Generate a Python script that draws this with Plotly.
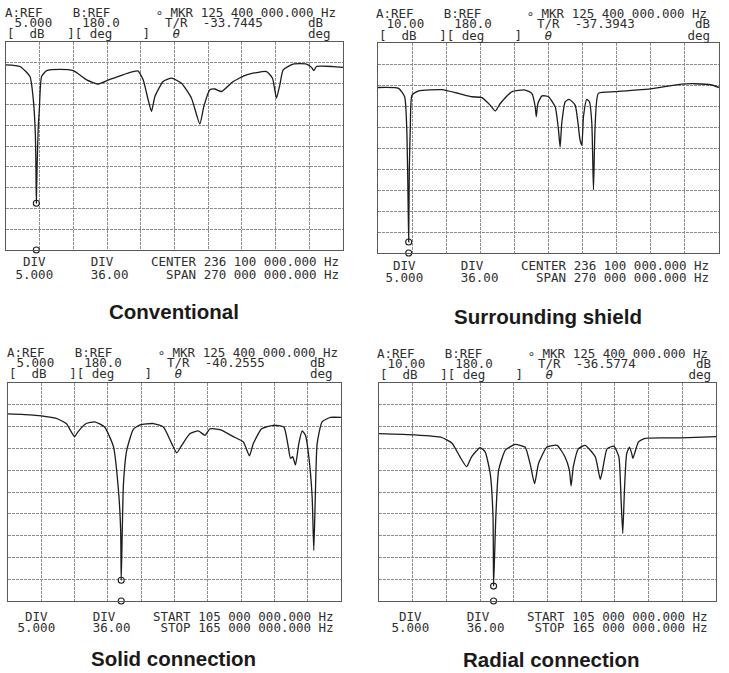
import plotly.graph_objects as go

W, H = 729, 673

# ---------------- data ----------------
titles = ["Conventional", "Surrounding shield", "Solid connection", "Radial connection"]
a_ref = [5.0, 10.0, 5.0, 10.0]          # dB at top of graticule
a_div = [5.0, 5.0, 5.0, 5.0]            # dB / division
b_ref = ["180.0"] * 4
b_div = ["36.00"] * 4
marker_mhz = 125.4
marker_text = "125 400 000.000 Hz"
tr_values = [-33.7445, -37.3943, -40.2555, -36.5774]
freq_line1 = ["CENTER 236 100 000.000 Hz", "CENTER 236 100 000.000 Hz",
              "START 105 000 000.000 Hz", "START 105 000 000.000 Hz"]
freq_line2 = ["SPAN 270 000 000.000 Hz", "SPAN 270 000 000.000 Hz",
              "STOP 165 000 000.000 Hz", "STOP 165 000 000.000 Hz"]
x_start = [101.1, 101.1, 105.0, 105.0]  # MHz
x_stop = [371.1, 371.1, 165.0, 165.0]   # MHz
phase_marker_db = [-45, -40, -45, -40]  # B-trace marker (clipped at bottom)

f_conv = [101.1, 112.3, 120.3, 123.0, 124.6, 125.1, 125.4, 126.0, 127.0, 127.8, 129.6, 133.7,
          144.3, 155.0, 165.7, 175.0, 184.3, 203.0, 207.0, 211.0, 215.0, 217.7, 220.4, 227.0,
          233.7, 241.7, 249.7, 256.4, 259.6, 264.4, 268.4, 273.8, 283.1, 293.8, 309.8, 314.6,
          317.8, 320.5, 323.2, 331.2, 341.8, 345.9, 347.7, 349.9, 363.2, 371.1]
db_conv = [-0.5, -0.9, -3.3, -8.9, -17.0, -25.7, -33.74, -25.0, -15.0, -11.3, -3.3, -1.9,
           -1.6, -1.9, -4.1, -5.1, -4.0, -2.1, -2.0, -4.1, -8.9, -11.7, -8.1, -4.5,
           -3.7, -4.9, -8.5, -14.7, -10.5, -6.5, -6.3, -6.9, -4.5, -2.9, -2.1, -3.7,
           -8.5, -5.3, -1.7, -0.3, -0.3, -1.1, -1.9, -0.9, -0.9, -1.1]

f_shield = [101.1, 117.4, 122.2, 124.0, 124.9, 125.4, 125.9, 126.7, 128.0, 133.3, 151.7, 164.9,
            175.5, 183.4, 189.9, 193.9, 197.9, 207.1, 217.6, 222.9, 225.6, 226.4, 227.7, 230.9,
            236.1, 241.4, 244.0, 245.3, 246.6, 249.3, 252.4, 257.2, 261.1, 262.5, 263.8, 266.4,
            268.5, 270.4, 271.7, 273.0, 275.6, 288.8, 315.2, 341.6, 352.1, 365.3, 371.1]
db_shield = [-0.6, -0.8, -2.8, -11.5, -27.4, -37.39, -20.0, -9.9, -2.4, -1.4, -1.1, -2.0,
             -2.8, -3.0, -4.8, -6.2, -4.4, -1.6, -1.2, -2.0, -5.2, -7.5, -4.4, -2.6,
             -2.8, -5.2, -10.7, -14.8, -9.1, -4.0, -3.4, -4.8, -13.1, -14.3, -7.5, -3.4,
             -4.0, -9.1, -25.0, -9.9, -2.0, -1.6, -1.0, 0.2, 0.3, 0.0, -0.6]

f_solid = [105.0, 109.5, 113.7, 115.5, 116.4, 117.0, 117.6, 119.1, 120.6, 122.4, 124.0, 124.9,
           125.3, 125.4, 125.8, 126.4, 127.6, 128.8, 131.2, 133.0, 134.5, 135.4, 136.3, 137.8,
           139.3, 140.5, 141.4, 143.2, 145.6, 147.4, 148.5, 149.2, 150.7, 152.8, 154.7, 155.4,
           155.9, 156.3, 156.8, 157.4, 158.0, 158.6, 159.2, 159.8, 160.1, 160.4, 160.7, 161.6,
           163.1, 165.0]
db_solid = [-2.1, -2.35, -3.1, -4.3, -6.2, -7.3, -6.2, -4.3, -3.9, -5.1, -9.6, -19.6,
            -28.8, -40.26, -18.2, -10.4, -5.6, -4.6, -4.3, -5.1, -8.9, -11.0, -9.3, -6.6,
            -6.0, -7.0, -5.5, -5.7, -7.3, -8.5, -11.7, -8.9, -5.5, -4.7, -5.1, -8.9,
            -12.3, -11.9, -13.8, -8.9, -6.0, -7.0, -11.9, -21.1, -33.4, -19.6, -8.9, -3.9,
            -2.9, -2.9]

f_radial = [105.0, 111.4, 116.2, 118.0, 119.4, 120.6, 121.5, 123.0, 123.9, 124.8, 125.3, 125.4,
            125.8, 126.3, 127.5, 129.2, 131.0, 131.9, 132.7, 133.4, 134.9, 136.7, 138.1, 138.9,
            139.2, 139.6, 140.5, 141.7, 143.5, 144.4, 144.8, 145.6, 146.8, 147.7, 148.1, 148.4,
            148.7, 149.1, 149.6, 150.0, 150.2, 150.5, 151.2, 152.4, 158.9, 165.0]
db_radial = [-1.6, -1.9, -2.5, -3.8, -6.9, -9.2, -6.9, -4.8, -5.8, -10.8, -20.7, -36.58,
             -20.7, -10.0, -5.4, -4.1, -4.7, -8.5, -13.1, -8.5, -4.7, -4.3, -6.9, -10.0,
             -13.6, -9.2, -5.1, -4.3, -6.9, -12.1, -10.0, -5.1, -4.5, -6.9, -16.8, -24.5,
             -14.6, -6.2, -4.7, -6.2, -7.3, -6.2, -3.5, -2.7, -2.6, -2.3]

freqs = [f_conv, f_shield, f_solid, f_radial]
dbs = [db_conv, db_shield, db_solid, db_radial]

# ---------------- layout (pixel positions, text columns) ----------------
panels = [
    dict(grid=(6, 42, 343, 250), hx=(3, 5), hy=(12, 23, 33), dbc=40, degc=40,
         fx=6, fy=(262, 274), cap=(174, 311)),
    dict(grid=(378, 43, 719, 253), hx=(374, 377), hy=(13, 24, 35), dbc=42, degc=41,
         fx=376, fy=(266, 277), cap=(548, 316)),
    dict(grid=(8, 383, 341, 601), hx=(5, 7), hy=(352, 362, 373), dbc=40, degc=40,
         fx=8, fy=(616, 627), cap=(173, 658)),
    dict(grid=(379, 383, 716, 601), hx=(375, 378), hy=(353, 363, 374), dbc=42, degc=41,
         fx=382, fy=(616, 627), cap=(551, 659)),
]

MONO = "DejaVu Sans Mono"
MSIZE = 12.5
TXT = "#2e2e2e"
NB = "\u00a0"


def place(items):
    width = max(c + len(t) for c, t in items)
    s = [" "] * width
    for c, t in items:
        s[c:c + len(t)] = list(t)
    return "".join(s).rstrip().replace(" ", NB)


fig = go.Figure()
annotations = []


def px(x):
    return x / W


def py(y):
    return 1 - y / H


def label(text, x, y, anchor="left", size=MSIZE, family=MONO, color=TXT):
    annotations.append(dict(text=text, x=px(x), y=py(y), xref="paper", yref="paper",
                            xanchor=anchor, yanchor="middle", showarrow=False,
                            font=dict(family=family, size=size, color=color)))


for i, p in enumerate(panels):
    n = "" if i == 0 else str(i + 1)
    x0, y0, x1, y1 = p["grid"]
    top = a_ref[i]
    bottom = top - 10 * a_div[i]
    xdiv = (x_stop[i] - x_start[i]) / 10
    axcommon = dict(showline=True, mirror=True, linecolor="#5a5a5a", linewidth=1,
                    showgrid=True, gridcolor="#8c8c8c", griddash="3px,1px", gridwidth=1,
                    zeroline=False, showticklabels=False, ticks="", fixedrange=True)
    fig.update_layout(**{
        "xaxis" + n: dict(domain=[px(x0), px(x1)], range=[x_start[i], x_stop[i]],
                          tick0=x_start[i], dtick=xdiv, anchor="y" + n, **axcommon),
        "yaxis" + n: dict(domain=[py(y1), py(y0)], range=[bottom, top],
                          tick0=bottom, dtick=a_div[i], anchor="x" + n, **axcommon),
    })
    fig.add_trace(go.Scatter(x=freqs[i], y=dbs[i], mode="lines",
                             line=dict(color="#1c1c1c", width=1.3, shape="spline",
                                       smoothing=0.5),
                             xaxis="x" + n, yaxis="y" + n, showlegend=False,
                             hoverinfo="skip"))
    fig.add_trace(go.Scatter(x=[marker_mhz, marker_mhz], y=[tr_values[i], phase_marker_db[i]],
                             mode="markers",
                             marker=dict(symbol="circle-open", size=6, color="#1c1c1c",
                                         line=dict(width=1.1)),
                             xaxis="x" + n, yaxis="y" + n, showlegend=False,
                             cliponaxis=False, hoverinfo="skip"))

    # header rows
    hx1, hx2 = p["hx"]
    r1, r2y, r3y = p["hy"]
    a_txt = "%.3f" % top if top < 10 else "%.2f" % top
    label(place([(0, "A:REF"), (9, "B:REF"), (20, "\u2218 MKR " + marker_text)]), hx1, r1)
    label(place([(1, a_txt), (10, b_ref[i]), (21, "T/R"), (26, "%.4f" % tr_values[i]),
                 (p["dbc"], "dB")]), hx2, r2y)
    row3 = place([(0, "["), (3, "dB"), (8, "]["), (11, "deg"), (18, "]"), (22, "@"),
                  (p["degc"], "deg")]).replace("@", "<i>\u03b8</i>")
    label(row3, hx2, r3y)

    # footer rows
    fy1, fy2 = p["fy"]
    c1 = 19
    c2 = 21 if freq_line2[i].startswith("SPAN") else 20
    label(place([(2, "DIV"), (11, "DIV"), (c1, freq_line1[i])]), p["fx"], fy1)
    label(place([(1, "%.3f" % a_div[i]), (11, b_div[i]), (c2, freq_line2[i])]), p["fx"], fy2)

    # caption
    cx, cy = p["cap"]
    annotations.append(dict(text="<b>" + titles[i] + "</b>", x=px(cx), y=py(cy),
                            xref="paper", yref="paper", xanchor="center", yanchor="middle",
                            showarrow=False,
                            font=dict(family="Liberation Sans, Arial, sans-serif", size=20.5,
                                      color="#1a1a1a")))

fig.update_layout(width=W, height=H, margin=dict(l=0, r=0, t=0, b=0),
                  paper_bgcolor="white", plot_bgcolor="white",
                  annotations=annotations, showlegend=False, hovermode=False)

fig.write_html("out.html",
               config={"displayModeBar": False, "staticPlot": True},
               post_script="document.body.style.margin='0px';"
                           "document.body.style.padding='0px';")
